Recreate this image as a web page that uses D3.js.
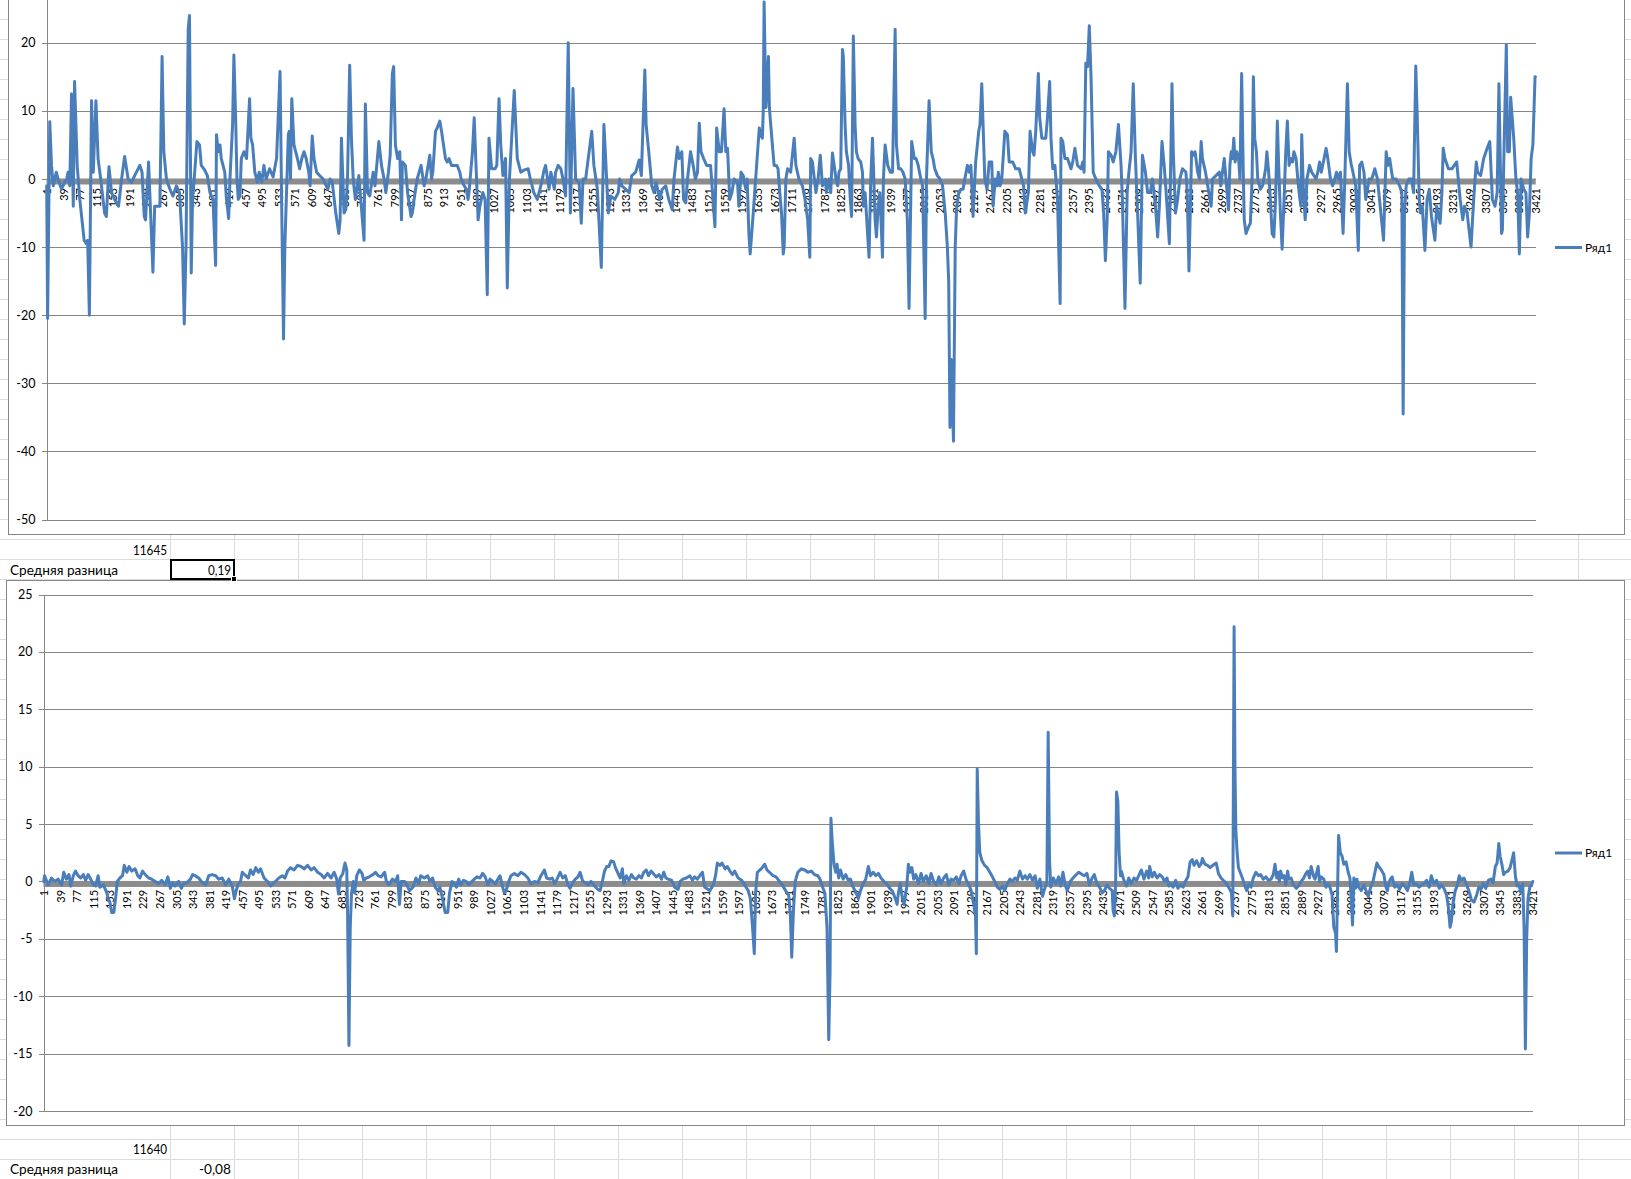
<!DOCTYPE html>
<html><head><meta charset="utf-8">
<script src="https://cdn.jsdelivr.net/npm/d3@7"></script>
<style>body{margin:0;background:#fff;overflow:hidden}svg{display:block}text{font-family:Lato,"Open Sans",sans-serif}</style>
</head><body>
<svg id="c" width="1631" height="1179"></svg>
<script>
const xTickLabels = [1,39,77,115,153,191,229,267,305,343,381,419,457,495,533,571,609,647,685,723,761,799,837,875,913,951,989,1027,1065,1103,1141,1179,1217,1255,1293,1331,1369,1407,1445,1483,1521,1559,1597,1635,1673,1711,1749,1787,1825,1863,1901,1939,1977,2015,2053,2091,2129,2167,2205,2243,2281,2319,2357,2395,2433,2471,2509,2547,2585,2623,2661,2699,2737,2775,2813,2851,2889,2927,2965,3003,3041,3079,3117,3155,3193,3231,3269,3307,3345,3383,3421];
const topTicks = [-50,-40,-30,-20,-10,0,10,20];
const bottomTicks = [-20,-15,-10,-5,0,5,10,15,20,25];
const seriesName = "Ряд1";
const cellLabel = "Средняя разница";
const topCount = "11645", topMean = "0,19";
const bottomCount = "11640", bottomMean = "-0,08";

const topSeries = [[1,-1],[3,-20.5],[8,8.4],[12,2],[16,-1],[23,1],[27,0],[35,-1.5],[42,-0.5],[47,0],[50,1],[54,-1],[58,12.5],[62,-4],[65,14.3],[71,2],[77,-3],[82,-6],[87,-9],[92,-9.5],[95,-9],[99,-20],[104,11.5],[108,1],[114,11.5],[119,3],[125,0],[134,-5],[138,-5.5],[144,1.8],[150,-2],[157,-3],[166,-4],[173,0],[180,3.3],[188,0],[196,-0.5],[203,0.5],[215,2],[220,1],[225,-5.5],[228,-6],[235,2.5],[245,-13.7],[249,-4],[257,-4],[261,-4],[266,18],[270,4],[276,0],[284,-1.5],[291,-2.5],[299,-1],[306,-2],[313,-10],[317,-21.3],[321,-10],[326,22],[329,24],[331,5],[333,-13.8],[336,-3],[341,1],[346,5.5],[352,5],[356,2],[364,1.3],[370,0.5],[376,-2],[383,-3],[389,-12.7],[391,6.5],[395,4],[399,5],[402,3],[410,1],[414,-3],[419,-5.8],[422,0],[428,8],[431,18.2],[435,9],[438,0],[441,-3],[445,-2.5],[448,3],[454,4],[460,3],[467,11.8],[470,6],[474,5],[479,1],[485,-0.5],[489,1],[495,-0.5],[500,2],[505,0],[513,1.5],[521,0.3],[529,3],[537,15.8],[541,-5],[545,-23.5],[548,-10],[556,6.5],[558,7],[561,0],[564,11.8],[569,5],[573,4],[577,3],[582,1.5],[587,3],[592,4],[597,3],[603,1],[606,-1],[611,6.3],[615,3],[621,1],[628,0.5],[636,0],[643,-1],[647,-1.5],[652,0],[657,-0.5],[665,-5],[672,-8],[675,-6],[678,6],[684,-5],[688,-4.5],[692,0],[697,16.7],[701,6],[705,0],[710,-3],[718,0.5],[730,-9],[733,11],[738,-2],[743,-2.5],[751,1],[755,-1],[764,5.5],[770,2],[776,0],[780,-2],[786,1],[790,3.5],[795,15.5],[798,16.5],[802,5],[807,3],[812,4],[816,-6],[818,2.5],[825,2],[830,-2],[838,-5.5],
[841,-5],[845,-3],[852,0],[861,2],[868,-1],[872,0],[881,3.5],[885,0],[888,1],[894,7],[898,7.5],[904,8.5],[908,7],[917,3],[921,2.5],[925,3],[931,2],[937,2],[944,2],[950,1],[953,0],[960,-1],[965,-1.5],[969,-3],[971,-2],[975,1],[979,4],[983,9],[986,4],[992,-6],[996,-4],[1003,-2],[1008,-3],[1013,-17],[1017,6],[1023,1.5],[1031,1.5],[1035,2],[1040,11.8],[1044,5],[1049,0.5],[1055,3],[1059,-16],[1064,0],[1075,13],[1082,3],[1090,1],[1097,1.3],[1107,1.5],[1112,0],[1120,-2],[1128,-3],[1132,-2],[1138,-0.5],[1143,1.2],[1147,2],[1155,-1.5],[1159,1],[1163,0],[1167,-1.5],[1170,1],[1176,2],[1182,1.5],[1187,0],[1193,-2.5],[1199,20],[1204,-5],[1210,13.3],[1216,0],[1224,-0.5],[1229,-6.5],[1233,0],[1239,0],[1253,7],[1258,2],[1266,-1.5],[1275,-13],[1281,8],[1285,3],[1291,-5],[1297,-2.5],[1306,-3],[1314,-2],[1317,0],[1322,-1],[1331,-1.5],[1339,-2],[1345,0.5],[1354,1],[1362,2.8],[1367,0.5],[1375,16],[1378,8],[1384,4],[1391,-1],[1396,-2],[1401,-0.5],[1409,-3],[1415,-1.5],[1423,-1],[1430,-3],[1438,-4.5],[1442,0],[1450,4.7],[1454,3],[1460,4],[1464,-3],[1469,-3.5],[1473,0],[1480,4],[1486,2],[1491,0],[1496,1],[1500,8.2],[1504,4],[1510,3],[1517,2],[1526,2],[1536,-7],[1540,7.5],[1546,4],[1551,4],[1557,10.3],[1561,4],[1565,4.5],[1570,-3],[1575,-2],[1580,0],[1588,-0.5],[1591,-4],[1596,1],[1601,0.5],[1607,-1.5],[1610,0],[1614,-8],[1617,-11],[1624,-5],[1634,4],[1638,7.5],[1641,6.5],[1645,6],[1647,10],[1649,26],[1653,10.5],[1659,18],[1661,10.5],[1668,5],[1672,2],[1677,2],[1681,1.5],[1685,-2],[1689,-5],[1693,-11],[1695,-10],[1699,0],[1703,1.5],[1710,1],[1718,6],[1722,2],[1729,0],[1733,-0.5],[1737,-1],[1743,-3],[1749,-6],[1754,-11.5],[1756,3],[1760,2.5],[1768,-2],[1773,0],[1778,3.5],[1783,-1],[1790,0],
[1792,-2],[1798,0],[1802,-2],[1806,3.8],[1810,2],[1814,0],[1818,-1],[1821,1],[1825,1.5],[1829,19],[1831,18],[1835,8],[1838,4],[1843,2],[1847,-3],[1850,-5.5],[1854,21],[1858,8],[1861,4],[1865,3],[1871,2.5],[1875,1],[1877,-4],[1881,-2],[1890,-11.5],[1894,0],[1898,6],[1904,-6],[1907,-8.5],[1911,-4],[1915,-2],[1921,-11.5],[1923,0],[1927,5],[1933,2],[1939,1],[1944,1],[1950,22],[1953,5],[1958,1.5],[1963,1.5],[1968,1],[1973,0],[1978,-6],[1982,-19],[1988,5.5],[1994,3],[1998,3],[2003,2],[2009,0],[2013,-1],[2019,-20.5],[2022,0],[2028,11.5],[2033,4],[2037,3],[2041,1.5],[2047,0.5],[2053,0],[2059,-1],[2065,-5],[2070,-10],[2073,-15],[2076,-36.5],[2079,-26.5],[2084,-38.5],[2088,-10],[2091,-4.5],[2096,-2],[2101,-1.5],[2106,-1.5],[2110,0],[2116,2],[2120,1],[2124,2],[2129,-5.5],[2135,2.5],[2142,7],[2145,8],[2149,14],[2156,0],[2161,-1.5],[2166,2.5],[2172,2.5],[2175,-4],[2180,0],[2184,-1],[2187,1],[2191,-1],[2195,0],[2202,7],[2208,6.5],[2212,2.5],[2220,2.5],[2227,1.5],[2235,1.5],[2241,0],[2245,-1],[2249,-5],[2256,-2],[2260,7],[2266,4],[2269,3.5],[2273,7],[2279,15.5],[2282,9],[2287,6],[2296,6],[2300,9],[2305,14.3],[2308,6],[2312,1.5],[2317,2],[2323,-3],[2329,-18.3],[2331,6],[2335,5.5],[2340,3],[2346,3],[2354,1.5],[2358,2.5],[2363,4.5],[2369,2],[2377,1.5],[2381,2.5],[2384,1],[2388,17],[2392,16.5],[2396,22.5],[2400,15],[2405,1],[2411,0],[2419,-1],[2425,-1.5],[2429,-5],[2433,-12],[2437,-6],[2440,4],[2446,3.5],[2451,2.5],[2457,4],[2463,8],[2469,2],[2472,-3],[2478,-19],[2483,-2],[2487,1],[2492,4],[2497,14],[2502,3],[2507,-5],[2513,-15.3],[2518,3.5],[2525,1],[2530,-2],[2536,-2],[2541,0],[2548,-4],[2553,-8.5],[2557,-4],[2563,5.5],[2568,2],[2572,-1.5],[2580,-9.5],[2586,14],[2589,4],[2594,-5],[2599,-3],[2604,0],[2610,1.5],[2618,1],[2621,-2],[2625,-13.5],[2631,4],[2635,3.5],[2639,4],[2645,1],[2649,0],[2653,5.5],[2656,3],[2663,1],[2668,-1],[2676,-4],[2679,0],[2687,0.5],[2695,1],[2698,-1],[2706,3],[2716,-4.5],[2719,2],[2722,4],[2725,3],[2728,6],[2731,2.5],[2735,4],
[2739,3],[2742,0],[2746,15.5],[2750,0],[2752,-6],[2756,-8],[2762,-7],[2766,-6.5],[2770,0],[2773,15],[2776,6],[2780,4],[2783,0],[2789,-1.5],[2794,-1],[2797,0],[2801,1.5],[2804,4],[2808,1],[2812,-3],[2816,-8],[2820,-8.5],[2824,-3],[2828,8.5],[2831,2],[2835,-5],[2839,-10.3],[2844,-2],[2847,3.5],[2851,8.5],[2855,2],[2859,3],[2863,2.5],[2866,4],[2871,3],[2875,0],[2878,-2],[2882,-4],[2884,6.5],[2888,-2],[2892,-6],[2896,0],[2902,2],[2907,1],[2917,0],[2921,1],[2925,2.5],[2929,1],[2940,4.5],[2944,3],[2950,0],[2955,-1],[2960,0],[2964,1],[2968,0],[2973,1],[2979,-8],[2983,0],[2989,14],[2993,4],[2998,2],[3000,1.5],[3008,-1],[3014,-10.5],[3017,2],[3022,2.5],[3027,1],[3031,-3],[3039,0],[3045,0],[3052,1.5],[3058,0],[3065,-4.5],[3072,-9],[3078,4],[3082,2],[3086,3],[3093,0],[3101,0],[3109,-1],[3114,-2],[3117,-34.5],[3120,-5],[3124,-1],[3130,0],[3136,0],[3141,-2],[3146,16.6],[3149,10],[3154,-3],[3157,-5],[3161,-4],[3167,-10.5],[3172,-3],[3177,-1.5],[3182,-5.5],[3190,-9],[3194,-4],[3202,-6.5],[3206,-2],[3209,4.5],[3213,3],[3221,1.5],[3229,1.5],[3240,2.5],[3248,-3],[3254,-6],[3258,-4],[3264,-5],[3273,-10],[3279,-3],[3285,2.5],[3288,1],[3295,0.5],[3302,3],[3310,4.5],[3316,5.5],[3322,-3],[3328,-4],[3333,-2],[3337,14],[3343,-8],[3345,-7.5],[3349,5],[3354,19.7],[3357,4],[3361,4],[3364,12],[3371,6],[3376,0],[3380,-2],[3384,-11],[3388,0],[3394,-1.5],[3399,-2],[3403,-8.5],[3407,-5],[3411,3],[3415,5],[3420,15],[3421,15]];

const bottomSeries = [[1,0],[3,0.5],[11,-0.3],[19,0.3],[26,0],[34,0.2],[42,-0.3],[47,0.8],[53,0.2],[59,0.6],[63,-0.4],[69,0.5],[74,0.9],[80,0.5],[86,0.3],[92,0.6],[97,0.1],[103,0.6],[109,0.2],[115,-0.3],[120,-0.4],[126,0.5],[130,-0.5],[138,-0.3],[146,-1],[149,-1.5],[153,-1.8],[157,-2.7],[162,-2.7],[166,-1.5],[170,0],[176,0.3],[182,0.5],[186,1.4],[192,0.8],[197,1.3],[203,0.9],[211,1.1],[217,0.5],[222,0.3],[228,0.9],[234,0.6],[242,0.3],[249,0.2],[257,0],[265,-0.2],[272,0.1],[280,-0.3],[286,0.4],[292,-0.6],[297,-0.1],[303,-0.4],[311,0],[317,-0.6],[322,-0.2],[330,-0.1],[338,0.2],[343,0.6],[349,0.5],[357,0.3],[365,-0.1],[373,-0.3],[380,0.5],[388,0.6],[396,0.5],[403,0.2],[411,0.3],[419,-0.3],[426,0.2],[434,-0.4],[439,-1.5],[443,-0.8],[448,-0.2],[453,0],[457,0.8],[465,0.5],[471,0.3],[476,1],[482,0.6],[488,1.2],[494,0.8],[499,1.1],[507,0.3],[515,0],[522,-0.4],[528,-0.2],[533,0],[541,0.3],[549,0.5],[555,0.3],[561,0.9],[568,1.2],[576,1],[584,1.4],[592,1.3],[599,1.1],[607,1.4],[615,1],[622,1.2],[630,0.8],[638,0.6],[645,0.3],[653,0.7],[661,0.3],[668,0.8],[674,0.2],[678,-1.1],[682,0.3],[688,0.7],[693,1.6],[697,1],[699,-3],[702,-14.3],[705,-4],[708,-1],[712,0],[715,-1],[720,0.5],[726,1],[732,0.7],[736,0.1],[742,0.3],[749,0.4],[757,0.6],[763,0.8],[769,0.5],[776,0.4],[784,0.8],[788,0],[794,-0.3],[802,0.2],[809,0],[814,0.5],[818,-2],[822,0],[830,0],[835,-0.3],[841,-0.8],[849,-0.5],[856,0.3],[862,-0.2],[867,0.5],[875,0.3],[883,0.5],[888,0],[894,0.3],[900,-0.5],[906,-0.8],[911,-0.5],[917,-1.5],[923,-2.7],[929,-2.7],[933,-1],[939,0],[944,-0.2],[949,-0.5],[954,0.2],[959,-0.3],[965,0.1],[971,0],[977,-0.3],[982,-0.1],[990,0.2],[996,0.4],[1003,0.3],[1009,0.7],[1015,0.4],[1021,-0.3],[1026,0.2],[1032,0],[1038,-0.2],[1044,0.2],[1049,0.5],[1055,-0.5],[1059,-1],[1063,-0.8],[1069,0],[1074,0.5],[1082,0.7],[1090,0.5],[1097,0.8],[1105,0.6],[1113,0.3],[1120,-0.2],[1128,0],[1136,-0.1],[1143,0.5],[1151,1],[1156,0.3],[1163,0.2],[1169,0.3],[1174,-0.2],[1180,0.2],[1187,0.8],[1193,0.3],[1199,0.5],[1205,-0.3],[1210,-0.6],[1216,-0.1],[1222,0.2],[1228,0.4],[1233,0.8],[1239,0],[1245,-0.1],[1251,-0.3],[1258,0],[1266,-0.4],[1274,-0.7],[1279,-0.8],[1284,0],[1289,0.9],[1294,1.3],[1299,1.3],[1304,1.8],[1310,1.7],[1314,1.2],[1320,0.7],[1325,0.3],[1330,1.1],[1333,-0.2],[1339,0.5],[1345,0.1],[1351,0.6],[1356,0.3],[1362,0.2],[1368,0.5],[1374,0.3],[1379,0.8],[1385,1],[1390,0.5],[1396,0.9],[1403,0.6],[1408,0.4],[1414,0.6],[1420,0.2],[1425,0.8],[1430,0.3],[1435,0.2],[1443,0.1],[1450,-0.5],[1458,-0.7],[1463,0],[1469,0.2],[1477,0.3],[1485,0.5],[1491,0.1],[1496,0.4],[1502,0.2],[1508,0.5],[1514,0.8],[1519,-0.5],[1523,-0.6],[1531,-0.8],[1539,-0.3],[1544,0.5],[1548,1.6],[1554,1.4],[1559,1.6],[1566,1.1],[1571,1.3],[1577,0.9],[1583,0.6],[1588,0.9],[1596,0.3],[1604,0.1],[1611,-0.3],[1619,-0.8],[1624,-1.5],[1629,-4],[1633,-6.3],[1636,-1],[1640,0.8],[1646,1],[1651,1.2],[1657,1.5],[1662,1],[1668,0.8],[1676,0.5],[1683,0.4],[1691,0],[1697,-0.3],[1705,-0.8],[1712,-1.2],[1716,-3],[1719,-6.6],[1723,-2.5],[1727,0],[1733,0.8],[1741,1.1],[1749,1],[1756,0.8],[1764,0.9],[1771,0.6],[1779,0.5],[1784,0.2],[1790,-0.5],[1795,-1],[1800,-4],[1804,-13.8],[1807,-8],[1809,5.5],[1812,3.5],[1816,1.5],[1820,0.8],[1823,1.5],[1827,0.3],[1831,1],[1837,0.2],[1843,0.6],[1849,0.1],[1854,0.2],[1860,-0.5],[1866,-0.9],[1872,-1.5],[1877,-0.8],[1883,-0.2],[1889,0.2],[1895,1.3],[1900,0.5],[1906,0.8],[1912,0.5],[1918,0.7],[1924,0.3],[1931,0],[1939,-0.3],[1944,-0.6],[1951,-0.9],[1957,-1.5],[1961,-2],[1964,-1],[1968,-0.2],[1972,-1.2],[1977,-2],[1983,-0.5],[1987,1.5],[1991,0.8],[1995,1.2],[1999,0.2],[2004,0.6],[2010,-0.2],[2016,0.7],[2021,0],[2028,0.5],[2034,-0.2],[2039,0.7],[2045,0],[2051,-0.3],[2057,0.4],[2062,-0.2],[2068,0.3],[2074,0.6],[2080,-0.3],[2085,0.2],[2091,0.1],[2097,0.4],[2103,-0.2],[2108,0.5],[2114,0.9],[2120,0.1],[2126,-0.3],[2131,-0.8],[2137,-2],[2141,-3],[2143,-6.3],[2145,9.8],[2148,5],[2151,2.5],[2156,1.8],[2162,1.4],[2168,1.2],[2174,0.8],[2180,0.4],[2185,0],[2191,-0.5],[2197,-0.7],[2203,-0.4],[2208,-0.8],[2214,-0.2],[2220,0.2],[2226,0],[2232,0.3],[2237,0.1],[2243,0.9],[2249,0.2],[2255,0.5],[2260,0.2],[2266,0.6],[2272,0.1],[2278,0.5],[2283,-0.6],[2289,0.2],[2295,-1.3],[2301,-0.5],[2305,-0.1],[2308,13],[2311,2],[2314,-0.5],[2320,0.3],[2326,-0.2],[2332,0.4],[2337,-0.4],[2342,0.8],[2347,-0.3],[2352,-0.8],[2359,0],[2365,0.3],[2370,0.5],[2378,0.8],[2386,0.6],[2391,0.5],[2397,0.7],[2403,-0.3],[2409,0.3],[2414,0.6],[2420,-0.2],[2426,-0.5],[2432,-1],[2437,-0.8],[2443,-0.3],[2449,-0.6],[2455,-0.8],[2457,-2.5],[2460,-3],[2463,0],[2465,7.8],[2468,7],[2471,2.5],[2474,0.5],[2476,0.9],[2482,0.1],[2488,-0.4],[2493,0.3],[2499,-0.2],[2505,0.3],[2511,0.1],[2516,0.5],[2522,1],[2528,0.2],[2534,0.9],[2539,0.3],[2541,1.3],[2547,0.4],[2552,0.8],[2558,0.3],[2564,0.6],[2570,0.4],[2575,0],[2581,0.3],[2585,-0.4],[2589,-0.2],[2595,-0.5],[2601,0.1],[2606,-0.6],[2612,-0.3],[2618,-0.5],[2623,0],[2629,0.4],[2634,1.7],[2639,1.9],[2643,1.4],[2649,1.8],[2655,1.3],[2660,1.6],[2662,2],[2668,1.5],[2674,1.4],[2680,1.2],[2686,1.4],[2694,1.6],[2699,0.7],[2705,0.3],[2713,0],[2719,-0.3],[2724,-0.6],[2729,-1],[2732,-3],[2735,22.2],[2737,10],[2739,4.5],[2742,2.5],[2745,1.2],[2749,0.8],[2754,0.3],[2759,-0.3],[2764,-0.8],[2769,-0.2],[2774,-0.5],[2779,0.3],[2785,0.8],[2791,0.5],[2796,0.6],[2802,0.2],[2808,0.4],[2814,0.1],[2820,0.2],[2825,0.6],[2829,1.5],[2833,0.3],[2837,0.8],[2839,0],[2842,0.9],[2846,0.3],[2850,0.5],[2854,-0.3],[2858,0.9],[2861,0.2],[2866,0.3],[2871,-0.3],[2878,-0.6],[2883,-0.4],[2889,0],[2895,0.3],[2900,0.7],[2904,0.9],[2908,0.3],[2912,1.3],[2918,0.4],[2921,0.2],[2928,1.3],[2931,0],[2935,0.4],[2941,0.2],[2946,-0.5],[2951,-0.2],[2956,-0.6],[2960,-1.2],[2964,-4],[2968,-4.5],[2970,-6.1],[2972,-2],[2974,2],[2975,4],[2979,2.5],[2983,2.2],[2987,1.5],[2992,1.7],[2997,0.8],[3001,0.3],[3004,-1.5],[3007,-3.8],[3010,0.3],[3014,-0.6],[3017,0.2],[3021,-0.5],[3027,-0.8],[3033,-0.3],[3038,-0.8],[3043,-1.3],[3048,-0.6],[3054,0],[3058,0.7],[3063,1.6],[3067,1.3],[3073,1],[3079,0.6],[3083,-0.4],[3087,-0.8],[3090,-0.2],[3094,0.2],[3098,0.4],[3104,-0.5],[3110,-0.3],[3115,-0.7],[3121,-0.2],[3127,-0.4],[3133,-0.8],[3138,-0.2],[3143,0.8],[3148,-0.3],[3153,-0.2],[3160,-0.5],[3166,-0.3],[3171,-0.2],[3177,0.1],[3183,-0.5],[3188,0.5],[3194,-0.2],[3200,0.1],[3206,-0.6],[3211,-0.3],[3217,-0.6],[3223,-1.2],[3227,-2.2],[3231,-4],[3234,-3.5],[3238,-1.8],[3243,-0.8],[3248,-0.3],[3252,0.5],[3257,0.1],[3263,0.3],[3268,-0.2],[3275,-0.9],[3280,-1.6],[3286,-1.8],[3292,-1.2],[3297,-0.5],[3302,-0.7],[3307,-0.2],[3313,-0.6],[3319,0.1],[3325,0.2],[3330,-0.1],[3335,1.3],[3339,1.6],[3343,3.3],[3346,2.2],[3350,1.5],[3354,0.6],[3358,0.8],[3364,0.9],[3369,1.2],[3374,2],[3377,2.5],[3381,0.5],[3385,-0.4],[3389,-0.3],[3394,-1],[3398,-0.2],[3401,-4],[3404,-14.6],[3407,-5],[3410,-1.5],[3414,-0.5],[3418,-0.3],[3421,0]];

const svg = d3.select("#c");
const LINE = "#4a7ebb", AXIS = "#868686", CELL = "#dadcdd";

// spreadsheet cell grid (background)
const grid = svg.append("g").attr("shape-rendering","crispEdges");
for (let yy = 19.5; yy < 1179; yy += 20) grid.append("line").attr("x1",0).attr("x2",1631).attr("y1",yy).attr("y2",yy).attr("stroke",CELL);
for (let xx = 170.5; xx < 1631; xx += 64) grid.append("line").attr("x1",xx).attr("x2",xx).attr("y1",0).attr("y2",1179).attr("stroke",CELL);

function drawChart(cfg){
  const g = svg.append("g");
  g.append("rect").attr("x",cfg.box[0]).attr("y",cfg.box[1]).attr("width",cfg.box[2]).attr("height",cfg.box[3])
    .attr("fill","#fff").attr("stroke",AXIS).attr("shape-rendering","crispEdges");
  const x = d3.scaleLinear().domain([0.5, 3421.5]).range([cfg.left, cfg.right]);
  const y = d3.scaleLinear().domain(cfg.domain).range([cfg.bottom, cfg.top]);
  g.append("g").selectAll("line").data(cfg.ticks).join("line")
    .attr("x1",cfg.left).attr("x2",cfg.right)
    .attr("y1",d=>Math.round(y(d))+0.5).attr("y2",d=>Math.round(y(d))+0.5)
    .attr("stroke",AXIS).attr("shape-rendering","crispEdges");
  const ya = g.append("g").attr("transform",`translate(${cfg.left},0)`)
    .call(d3.axisLeft(y).tickValues(cfg.ticks).tickSize(5).tickSizeOuter(0).tickPadding(6).tickFormat(d=>String(d)));
  ya.select(".domain").attr("stroke",AXIS).attr("shape-rendering","crispEdges");
  ya.selectAll(".tick line").attr("stroke",AXIS).attr("shape-rendering","crispEdges");
  ya.selectAll(".tick text").attr("font-size",12.5).attr("fill","#000").attr("font-family","Lato");
  const y0 = y(0);
  g.append("rect").attr("x",cfg.left).attr("y",y0-0.5).attr("width",cfg.right-cfg.left).attr("height",6).attr("fill","#8c8c8c");
  const xa = g.append("g").attr("transform",`translate(0,${y0})`)
    .call(d3.axisBottom(x).tickValues(xTickLabels).tickSize(0).tickFormat(d=>String(d)));
  xa.select(".domain").remove();
  xa.selectAll(".tick text").attr("transform","rotate(-90)").attr("text-anchor","end")
    .attr("x",-cfg.labelGap).attr("y",0).attr("dy","0.36em")
    .attr("font-size",11).attr("fill","#000").attr("font-family","Lato");
  g.append("path").datum(cfg.series).attr("fill","none").attr("stroke",LINE).attr("stroke-width",3)
    .attr("stroke-linejoin","round").attr("stroke-linecap","round")
    .attr("d", d3.line().x(d=>x(d[0])).y(d=>y(d[1])));
  g.append("line").attr("x1",1555).attr("x2",1582).attr("y1",cfg.legendY).attr("y2",cfg.legendY)
    .attr("stroke",LINE).attr("stroke-width",3);
  g.append("text").attr("x",1585).attr("y",cfg.legendY).attr("dy","0.36em").attr("font-size",12).attr("fill","#000").text(seriesName);
}

drawChart({box:[8.5,-20,1616,554.5], left:46.5, right:1535.7, top:-25.3, bottom:519.5, domain:[-50,30],
  ticks:topTicks, series:topSeries, labelGap:9, legendY:247.5});
drawChart({box:[6.5,580.5,1617.5,545], left:43.5, right:1533, top:594.5, bottom:1111, domain:[-20,25],
  ticks:bottomTicks, series:bottomSeries, labelGap:8.5, legendY:853});

const cells = svg.append("g").attr("font-size",13.5).attr("fill","#000");
function cellText(x, y, anchor, txt, len){
  const t = cells.append("text").attr("x",x).attr("y",y).attr("text-anchor",anchor).text(txt);
  if (len) t.attr("textLength",len).attr("lengthAdjust","spacingAndGlyphs");
}
cellText(167, 555, "end", topCount, 34);
cellText(10, 575, "start", cellLabel, 108);
cellText(231, 575, "end", topMean, 23);
cellText(167, 1154, "end", bottomCount, 34);
cellText(10, 1174, "start", cellLabel, 108);
cellText(231, 1174, "end", bottomMean, 32);
svg.append("rect").attr("x",171).attr("y",560).attr("width",63).attr("height",19).attr("fill","none").attr("stroke","#000").attr("stroke-width",2);
svg.append("rect").attr("x",231.5).attr("y",576.5).attr("width",5).attr("height",5).attr("fill","#000").attr("stroke","#fff").attr("stroke-width",1);
</script>
</body></html>
